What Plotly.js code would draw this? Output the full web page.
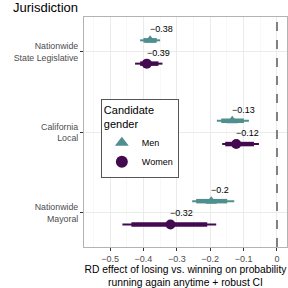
<!DOCTYPE html>
<html>
<head>
<meta charset="utf-8">
<script src="https://cdn.plot.ly/plotly-3.0.1.min.js"></script>
<style>html,body{margin:0;padding:0;background:#fff;}#chart{width:288px;height:288px;}</style>
</head>
<body>
<div id="chart"></div>
<script>
// Jurisdictions (bottom to top)
var jurisdictions = ["Nationwide<br>Mayoral", "California<br>Local", "Nationwide<br>State Legislative"];
var genders = ["Men", "Women"];
// Point estimates
var menEst = [-0.197, -0.134, -0.38];
var womenEst = [-0.319, -0.122, -0.39];
// 95% CI (thin)
var menLo95 = [-0.254, -0.180, -0.41];
var menHi95 = [-0.128, -0.084, -0.35];
var womenLo95 = [-0.463, -0.164, -0.425];
var womenHi95 = [-0.182, -0.054, -0.343];
// 90% CI (thick)
var menLo90 = [-0.242, -0.167, -0.40];
var menHi90 = [-0.149, -0.099, -0.36];
var womenLo90 = [-0.436, -0.155, -0.41];
var womenHi90 = [-0.209, -0.069, -0.355];
// tick labels
var xTickVals = [-0.5, -0.4, -0.3, -0.2, -0.1, 0];
var xTickText = ["−0.5", "−0.4", "−0.3", "−0.2", "−0.1", "0"];

var menColor = "#4f8f8f";
var womenColor = "#440a50";
var dodge = 0.145;
var font = "Liberation Sans, Arial, Helvetica, sans-serif";

var yBase = jurisdictions.map(function(_, i){ return i + 1; });
var yMen = yBase.map(function(v){ return v + dodge; });
var yWomen = yBase.map(function(v){ return v - dodge; });

function diff(a, b){ return a.map(function(v, i){ return v - b[i]; }); }
function lab(v){ return String(Math.round(v * 100) / 100).replace("-", "−"); }

function ciTrace(est, y, lo, hi, color, thick){
  return {
    type: "scatter", mode: "markers", x: est, y: y,
    marker: {size: 1, color: color, opacity: 0},
    error_x: {type: "data", symmetric: false, array: diff(hi, est), arrayminus: diff(est, lo),
      color: color, thickness: thick, width: 0},
    showlegend: false, hoverinfo: "skip"
  };
}

var traces = [
  ciTrace(menEst, yMen, menLo95, menHi95, menColor, 2),
  ciTrace(menEst, yMen, menLo90, menHi90, menColor, 4.5),
  ciTrace(womenEst, yWomen, womenLo95, womenHi95, womenColor, 2),
  ciTrace(womenEst, yWomen, womenLo90, womenHi90, womenColor, 4.5),
  {type: "scatter", mode: "markers", x: menEst, y: yMen, name: genders[0], showlegend: true,
   marker: {symbol: "triangle-up", size: 10, color: menColor}},
  {type: "scatter", mode: "markers", x: womenEst, y: yWomen, name: genders[1], showlegend: true,
   marker: {symbol: "circle", size: 10, color: womenColor}}
];

var annotations = [];
menEst.forEach(function(v, i){
  annotations.push({x: v, y: yMen[i], xref: "x", yref: "y", text: lab(v), showarrow: false,
    xanchor: "left", yanchor: "middle", xshift: -2, yshift: 11, font: {family: font, size: 9, color: "#000"}});
});
womenEst.forEach(function(v, i){
  annotations.push({x: v, y: yWomen[i], xref: "x", yref: "y", text: lab(v), showarrow: false,
    xanchor: "left", yanchor: "middle", xshift: -2, yshift: 11, font: {family: font, size: 9, color: "#000"}});
});

var layout = {
  width: 288, height: 288,
  margin: {l: 84, r: 1, t: 17, b: 41},
  paper_bgcolor: "#fff", plot_bgcolor: "#fff",
  font: {family: font, color: "#000"},
  title: {text: "Jurisdiction", font: {family: font, size: 13, color: "#000"},
    xref: "container", x: 13/288, xanchor: "left", yref: "container", y: 1 - 7/288, yanchor: "middle"},
  xaxis: {
    range: [-0.578, 0.03], tickvals: xTickVals, ticktext: xTickText,
    tickfont: {family: font, size: 9, color: "#4d4d4d"},
    ticks: "outside", ticklen: 3, tickcolor: "#333", tickwidth: 1,
    showgrid: true, gridcolor: "#ebebeb", gridwidth: 1,
    minor: {dtick: 0.05, tick0: 0, showgrid: true, gridcolor: "#f4f4f4", gridwidth: 0.6},
    zeroline: false, showline: true, linecolor: "#b3b3b3", mirror: true, linewidth: 1,
    automargin: false,
    title: {text: "RD effect of losing vs. winning on probability<br>running again anytime + robust CI",
      font: {family: font, size: 10.3, color: "#000"}, standoff: 2}
  },
  yaxis: {
    range: [0.575, 3.435], tickvals: yBase, ticktext: jurisdictions,
    tickfont: {family: font, size: 8.8, color: "#4d4d4d"},
    ticks: "outside", ticklen: 3, tickcolor: "#333", tickwidth: 1,
    showgrid: true, gridcolor: "#ebebeb", gridwidth: 1,
    zeroline: false, showline: true, linecolor: "#b3b3b3", mirror: true, linewidth: 1,
    automargin: false
  },
  shapes: [{type: "line", xref: "x", yref: "paper", x0: 0, x1: 0, y0: 0, y1: 1,
    line: {color: "#808080", width: 2, dash: "dash"}}],
  annotations: annotations,
  legend: {
    x: 0.083, y: 0.645, xanchor: "left", yanchor: "top",
    bgcolor: "#fff", bordercolor: "#555", borderwidth: 1,
    title: {text: "Candidate<br>gender", font: {family: font, size: 11, color: "#000"}},
    font: {family: font, size: 9, color: "#000"},
    itemwidth: 30, itemsizing: "constant"
  },
  showlegend: true
};

Plotly.newPlot("chart", traces, layout, {displayModeBar: false, staticPlot: true});
</script>
</body>
</html>
